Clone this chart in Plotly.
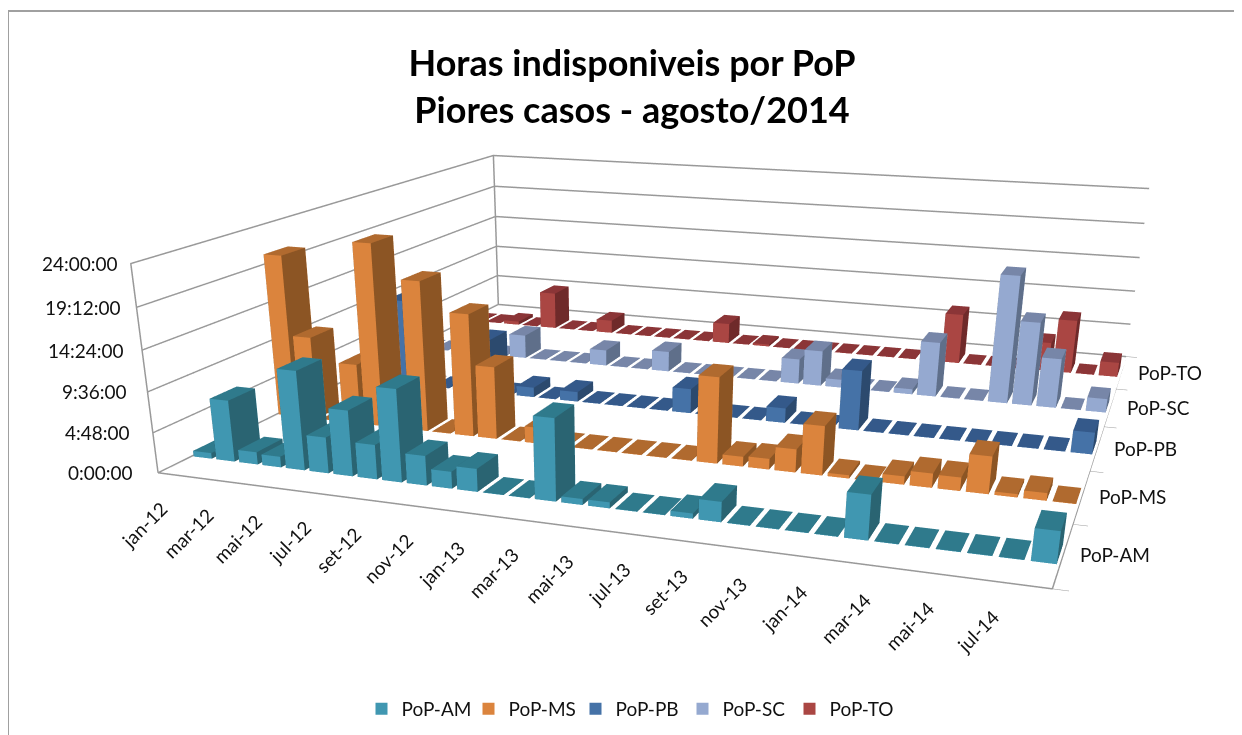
import plotly.graph_objects as go

months = ["jan-12","fev-12","mar-12","abr-12","mai-12","jun-12","jul-12","ago-12","set-12","out-12","nov-12","dez-12",
          "jan-13","fev-13","mar-13","abr-13","mai-13","jun-13","jul-13","ago-13","set-13","out-13","nov-13","dez-13",
          "jan-14","fev-14","mar-14","abr-14","mai-14","jun-14","jul-14","ago-14"]
series_names = ["PoP-AM","PoP-MS","PoP-PB","PoP-SC","PoP-TO"]
pop_am = [0.7,7.4,1.5,1.3,11.8,4.3,7.8,4.1,10.9,3.5,2.0,2.7,0.05,0.05,9.5,0.7,0.7,0.05,0.05,0.6,2.3,0.05,0.05,0.05,0.05,5.0,0.05,0.05,0.05,0.05,0.05,3.5]
pop_ms = [20.5,10.5,0.05,7.6,22.8,0.05,18.7,0.05,15.2,9.0,0.05,2.0,0.05,0.05,0.05,0.05,0.05,0.05,10.4,1.2,1.3,2.8,5.9,0.4,0.05,1.0,1.7,1.6,4.4,0.4,0.9,0.05]
pop_pb = [0.05,0.05,11.5,0.05,0.05,7.0,7.2,0.05,1.3,0.05,1.3,0.05,0.05,0.05,0.05,3.2,0.05,0.05,0.05,1.9,0.05,0.05,7.6,0.05,0.05,0.05,0.05,0.05,0.05,0.05,0.05,2.7]
pop_sc = [0.05,0.05,0.05,0.05,0.05,3.3,0.05,0.05,0.05,2.2,0.05,0.05,2.8,0.05,0.05,0.05,0.05,0.05,3.4,4.8,1.1,0.05,0.05,0.7,7.3,0.05,0.05,16.8,11.0,6.5,0.05,1.8]
pop_to = [0.05,0.05,0.5,0.05,5.4,0.05,0.05,1.9,0.05,0.05,0.05,0.05,0.05,2.9,0.05,0.3,0.05,0.05,0.05,0.05,0.05,0.05,0.05,0.3,7.0,0.05,0.05,0.05,4.0,7.4,0.05,2.0]
series_values = [pop_am,pop_ms,pop_pb,pop_sc,pop_to]
z_tickvals = [0,4.8,9.6,14.4,19.2,24]
z_ticktext = ["0:00:00","4:48:00","9:36:00","14:24:00","19:12:00","24:00:00"]
face_colors = [("#4097B1","#2A6472","#2F7A8C"),("#DB843D","#8C5524","#B06A2F"),("#4572A7","#2C4A6E","#34598A"),
               ("#95A9D0","#5F6F8A","#7786A8"),("#AA4643","#6F2A2A","#8B3537")]
FONT = "Lato"
n = len(months); m = len(series_names)
# The canvas is taller than the window so that the 45-degree WebGL lens matches the chart's long-focus look.
W,H = 1226,1300
eye = (1.78262,-5.69450,1.34660); cen = (0.05056,-1.01909,-0.97799); asp = (3.0,2.825,0.70999)

fig = go.Figure()
BW=0.40; BD=0.15
for s,(name,vals) in enumerate(zip(series_names,series_values)):
    X=[];Y=[];Z=[];I=[];J_=[];K=[];FC=[]
    fr,si,to=face_colors[s]
    for i,v in enumerate(vals):
        b=len(X)
        x0,x1=i-BW,i+BW; y0,y1=s+0.5-BD,s+0.5+BD
        X+=[x0,x1,x1,x0,x0,x1,x1,x0]; Y+=[y0,y0,y1,y1,y0,y0,y1,y1]; Z+=[0,0,0,0,v,v,v,v]
        faces=[((0,1,5),fr),((0,5,4),fr),((1,2,6),si),((1,6,5),si),((4,5,6),to),((4,6,7),to),((3,0,4),si),((3,4,7),si),((2,3,7),fr),((2,7,6),fr)]
        for (a,c,d),col in faces:
            I.append(b+a);J_.append(b+c);K.append(b+d);FC.append(col)
    fig.add_trace(go.Mesh3d(x=X,y=Y,z=Z,i=I,j=J_,k=K,facecolor=FC,flatshading=True,showlegend=False,hoverinfo="skip",
        lighting=dict(ambient=1,diffuse=0,specular=0,fresnel=0,roughness=1)))
    fig.add_trace(go.Scatter(x=[None],y=[None],mode="markers",name=name,marker=dict(symbol="square",size=12,color=fr)))

xr=[-0.5,n-0.5]; yr=[0,m]; zr=[0,24]
fx=[xr[0],xr[1],xr[1],xr[0],xr[0],None,xr[0],xr[0],xr[0],None,xr[0],xr[1],None,xr[0],xr[0]]
fy=[yr[0],yr[0],yr[1],yr[1],yr[0],None,yr[0],yr[0],yr[1],None,yr[1],yr[1],None,yr[1],yr[1]]
fz=[0,0,0,0,0,None,0,24,24,None,24,24,None,0,24]
fig.add_trace(go.Scatter3d(x=fx,y=fy,z=fz,mode="lines",line=dict(color="#999999",width=3),showlegend=False,hoverinfo="skip"))

ax_common=dict(showbackground=False,zeroline=False,showspikes=False,title=dict(text=""),showticklabels=False)
tickfont=dict(family=FONT,size=19,color="#111")
anns=[]
for i in range(0,n-1,2):
    anns.append(dict(x=i,y=0,z=0,text=months[i],textangle=-45,showarrow=False,xanchor="right",yanchor="top",xshift=5,yshift=-20,font=tickfont))
for j,nm in enumerate(series_names):
    anns.append(dict(x=xr[1],y=j+0.5,z=0,text=nm,showarrow=False,xanchor="left",xshift=15,font=tickfont))
for v,t in zip(z_tickvals,z_ticktext):
    anns.append(dict(x=xr[0],y=0,z=v,text=t,showarrow=False,xanchor="right",xshift=-23+12*v/24,font=tickfont))

fig.update_layout(
    width=W,height=H,margin=dict(l=0,r=0,t=0,b=0),paper_bgcolor="white",plot_bgcolor="white",
    xaxis=dict(visible=False),yaxis=dict(visible=False),
    title=dict(text="<b>Horas indisponiveis por PoP<br>Piores casos - agosto/2014</b>",x=624/W,xanchor="center",y=1-68/H,yanchor="middle",font=dict(family=FONT,size=36,color="#000")),
    legend=dict(orientation="h",x=621/W,xanchor="center",y=1-701/H,yanchor="middle",font=dict(family=FONT,size=19,color="#111"),bgcolor="rgba(0,0,0,0)",entrywidth=62,entrywidthmode="pixels"),
    shapes=[dict(type="rect",xref="paper",yref="paper",x0=0,x1=1.1,y0=-0.1,y1=1-3/H,line=dict(color="#A0A0A0",width=2))],
    scene=dict(domain=dict(x=[0,1],y=[0,1]),bgcolor="rgba(0,0,0,0)",aspectmode="manual",
        aspectratio=dict(x=asp[0],y=asp[1],z=asp[2]),
        camera=dict(eye=dict(x=eye[0],y=eye[1],z=eye[2]),center=dict(x=cen[0],y=cen[1],z=cen[2]),up=dict(x=0,y=0,z=1),projection=dict(type="perspective")),
        annotations=anns,
        xaxis=dict(range=xr,showgrid=False,ticks="",**ax_common),
        yaxis=dict(range=yr,showgrid=False,tickvals=list(range(m+1)),ticks="outside",ticklen=6,tickcolor="#999999",**ax_common),
        zaxis=dict(range=zr,tickvals=z_tickvals,ticks="",showgrid=True,gridcolor="#999999",gridwidth=3,**ax_common)))
fig.write_html("out.html",post_script="document.documentElement.style.overflow='hidden';document.body.style.overflow='hidden';")
